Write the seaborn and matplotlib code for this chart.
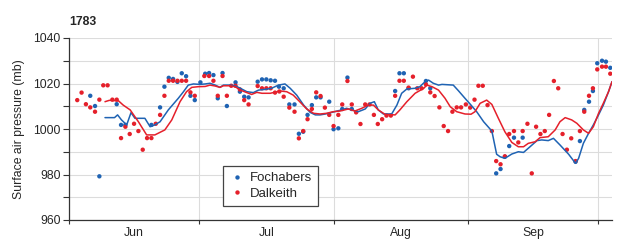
import matplotlib
matplotlib.use("Agg")
import matplotlib.pyplot as plt
import seaborn as sns
import pandas as pd

# day 0 = 1 June 1783
fochabers_days = [4.9, 6.0, 7.0, 11.0, 12.0, 13.0, 19.0, 21.0, 22.0, 23.0, 24.0, 25.0, 26.0, 27.0,
                  28.0, 29.0, 30.3, 31.4, 32.3, 33.3, 34.3, 35.4, 36.4, 38.4, 39.4, 40.4, 41.4,
                  43.5, 44.5, 45.5, 46.5, 47.5, 48.4, 49.5, 50.8, 52.0, 53.0, 54.0, 55.0, 56.0,
                  57.0, 58.0, 60.0, 61.0, 62.1, 63.0, 64.2, 65.2, 75.2, 76.2, 77.2, 78.3, 82.3,
                  83.3, 98.5, 99.5, 100.5, 101.5, 102.6, 104.6, 116.8, 117.8, 118.8, 119.9,
                  120.8, 121.8, 122.9, 123.8, 124.8]
fochabers_mb = [1014.6, 1010.1, 979.2, 1010.9, 1001.8, 1001.8, 1001.8, 1009.5, 1018.6, 1022.5,
                1022.0, 1020.7, 1024.5, 1023.2, 1014.6, 1012.7, 1020.5, 1024.3, 1024.6, 1023.7,
                1013.5, 1024.6, 1010.1, 1020.5, 1016.4, 1014.2, 1013.9, 1020.8, 1021.8, 1021.8,
                1021.4, 1021.2, 1018.6, 1017.9, 1010.8, 1010.8, 997.9, 998.8, 1006.2, 1010.5,
                1013.9, 1013.9, 1012.0, 999.9, 1000.3, 1008.8, 1022.6, 1008.8, 1016.7, 1024.5,
                1024.5, 1017.9, 1021.1, 1017.9, 980.5, 982.4, 987.8, 992.5, 996.2, 996.2,
                985.6, 994.7, 1008.4, 1012.0, 1016.7, 1028.9, 1030.0, 1029.6, 1026.9]

dalkeith_days = [1.9, 2.9, 3.9, 4.9, 6.0, 7.0, 7.9, 8.9, 10.0, 11.0, 12.0, 13.0, 14.0, 15.0, 16.0,
                 17.0, 18.0, 19.0, 20.0, 21.0, 22.0, 23.0, 24.0, 25.0, 26.0, 27.0, 28.0, 29.0,
                 31.2, 32.3, 33.3, 34.3, 35.4, 36.4, 37.4, 38.4, 39.4, 40.4, 41.4, 43.5, 44.5,
                 45.5, 46.5, 47.5, 48.5, 49.5, 50.8, 52.0, 53.0, 54.0, 55.0, 56.0, 57.0, 58.0,
                 59.0, 60.0, 61.0, 62.1, 63.0, 64.2, 65.2, 66.2, 67.2, 68.3, 69.3, 70.3, 71.2,
                 72.2, 73.2, 74.2, 75.2, 76.2, 77.2, 78.3, 79.3, 80.3, 81.3, 82.3, 83.3, 84.3,
                 85.4, 86.4, 87.4, 88.4, 89.4, 90.4, 91.5, 92.5, 93.5, 94.4, 95.4, 96.5, 97.5,
                 98.5, 99.5, 100.5, 101.5, 102.6, 103.6, 104.6, 105.7, 106.7, 107.7, 108.7,
                 109.7, 110.7, 111.8, 112.8, 113.8, 114.8, 115.8, 116.8, 117.8, 118.8, 119.9,
                 120.8, 121.8, 122.9, 123.8, 124.8]
dalkeith_mb = [1012.7, 1016.0, 1010.9, 1009.5, 1007.6, 1012.9, 1019.2, 1019.2, 1012.9, 1012.9,
               996.0, 1001.0, 997.8, 1002.3, 999.1, 990.9, 996.0, 996.0, 1002.3, 1006.2, 1014.6,
               1021.2, 1021.2, 1021.2, 1021.2, 1021.2, 1016.1, 1014.6, 1023.3, 1023.3, 1021.2,
               1014.6, 1023.3, 1014.6, 1019.0, 1019.0, 1017.4, 1012.7, 1010.8, 1018.9, 1017.9,
               1017.9, 1017.9, 1016.0, 1016.5, 1014.2, 1009.4, 1007.6, 995.9, 999.1, 1004.3,
               1008.8, 1016.1, 1014.5, 1009.4, 1006.2, 1001.3, 1006.2, 1010.8, 1021.1, 1010.8,
               1007.3, 1002.2, 1010.8, 1010.8, 1006.2, 1002.2, 1004.3, 1005.9, 1005.9, 1014.6,
               1021.2, 1021.2, 1018.2, 1023.0, 1017.9, 1017.9, 1019.6, 1016.1, 1014.5, 1009.5,
               1001.3, 999.1, 1007.6, 1009.5, 1009.5, 1010.8, 1009.4, 1012.9, 1019.0, 1019.0,
               1010.5, 999.1, 985.9, 984.5, 988.0, 997.8, 999.1, 994.1, 999.1, 1002.3, 980.5,
               1001.0, 997.8, 999.1, 1006.2, 1021.1, 1017.9, 997.8, 990.9, 995.9, 985.9, 999.1,
               1007.6, 1014.6, 1017.9, 1026.2, 1027.4, 1027.4, 1024.3]

# smoothed curves
fochabers_line_days = [8.3, 10.5, 11.2, 12.1, 13.3, 14.3, 15.2, 17.5, 18.7, 19.8, 21.0, 22.9, 25.2,
                       26.4, 27.5, 28.7, 30.2, 31.4, 32.5, 33.7, 34.8, 35.6, 37.1, 38.3, 39.5,
                       41.0, 42.5, 43.7, 45.2, 46.7, 48.3, 49.8, 51.0, 52.5, 54.1, 55.6, 56.8,
                       57.9, 59.1, 60.6, 62.0, 62.9, 64.0, 65.2, 66.7, 68.3, 69.4, 70.4, 71.3,
                       72.5, 74.4, 75.6, 76.7, 77.9, 79.8, 80.9, 82.1, 82.9, 84.0, 85.2, 86.0,
                       88.6, 89.8, 91.3, 92.7, 94.0, 95.6, 97.5, 98.6, 99.4, 100.5, 102.1, 103.6,
                       104.8, 106.3, 107.9, 109.0, 110.5, 111.7, 113.2, 115.2, 116.8, 117.5,
                       118.6, 119.8, 120.9, 122.1, 123.2, 124.4, 125.2]
fochabers_line_mb = [1005.0, 1005.0, 1006.2, 1004.0, 1001.8, 1007.2, 1004.7, 1004.7, 1001.0,
                     1001.8, 1003.2, 1008.4, 1013.5, 1016.4, 1019.3, 1019.8, 1019.6, 1019.8,
                     1020.1, 1019.3, 1018.3, 1019.3, 1019.3, 1019.0, 1017.9, 1016.4, 1016.0,
                     1017.1, 1017.4, 1017.9, 1019.3, 1019.8, 1017.9, 1014.9, 1010.5, 1007.3,
                     1006.2, 1006.2, 1006.6, 1007.3, 1008.0, 1008.4, 1009.1, 1008.4, 1007.6,
                     1008.8, 1011.3, 1012.0, 1008.4, 1006.6, 1006.6, 1010.5, 1015.7, 1017.6,
                     1017.9, 1018.6, 1020.8, 1021.5, 1020.1, 1019.3, 1019.6, 1019.3, 1016.8,
                     1013.5, 1010.5, 1007.6, 1003.2, 999.1, 988.9, 987.8, 987.1, 989.0, 990.0,
                     989.7, 992.2, 994.9, 995.2, 994.9, 995.9, 993.0, 988.9, 984.9, 987.1,
                     993.7, 998.1, 1001.8, 1006.2, 1010.5, 1016.4, 1020.8]

dalkeith_line_days = [8.3, 9.3, 11.4, 12.5, 14.1, 16.0, 17.9, 19.8, 22.1, 23.7, 25.6, 27.1, 28.3,
                      29.8, 31.4, 32.5, 33.7, 34.8, 35.6, 37.1, 38.3, 39.5, 41.0, 42.1, 43.3,
                      44.5, 46.4, 48.7, 50.2, 51.7, 53.2, 54.8, 56.4, 57.9, 59.4, 60.9, 62.5,
                      64.4, 65.9, 67.5, 69.0, 70.2, 71.3, 72.9, 75.2, 76.3, 77.9, 79.8, 81.8,
                      82.5, 83.7, 85.2, 86.7, 87.9, 89.4, 91.3, 92.7, 93.6, 94.8, 96.3, 97.5,
                      99.0, 100.5, 102.1, 103.6, 104.8, 105.9, 107.5, 108.6, 110.5, 112.1, 113.2,
                      114.4, 115.9, 117.1, 118.6, 119.8, 120.9, 122.1, 123.2, 124.4, 125.2]
dalkeith_line_mb = [1012.0, 1012.6, 1012.4, 1010.5, 1008.4, 1003.2, 997.4, 997.4, 999.6, 1004.0,
                    1012.0, 1016.4, 1018.3, 1018.6, 1018.7, 1019.3, 1018.9, 1018.3, 1019.0,
                    1019.0, 1018.6, 1017.1, 1016.0, 1015.2, 1016.1, 1015.7, 1015.7, 1016.7,
                    1016.4, 1014.9, 1012.0, 1008.8, 1006.9, 1006.6, 1006.9, 1007.6, 1007.9,
                    1008.8, 1007.9, 1009.1, 1010.5, 1010.5, 1008.4, 1006.4, 1006.2, 1008.4,
                    1012.0, 1015.7, 1017.9, 1019.3, 1018.6, 1017.1, 1013.5, 1009.8, 1007.6,
                    1006.6, 1006.5, 1007.6, 1011.3, 1012.7, 1010.8, 1004.7, 998.8, 994.1, 992.2,
                    992.2, 993.7, 994.4, 996.2, 996.6, 999.6, 1003.2, 1005.0, 1004.0, 1002.5,
                    999.6, 998.1, 1001.0, 1006.9, 1011.3, 1016.4, 1020.8]

month_starts = [0, 30, 61, 92, 122]
month_mids = [15, 45.5, 76.5, 107]
month_names = ["Jun", "Jul", "Aug", "Sep"]

blue = "#1f63b3"
red = "#e5202b"

sns.set_theme(style="white")
plt.rcParams["font.family"] = ["Liberation Sans", "DejaVu Sans"]

dots = pd.concat([
    pd.DataFrame({"day": fochabers_days, "mb": fochabers_mb, "site": "Fochabers"}),
    pd.DataFrame({"day": dalkeith_days, "mb": dalkeith_mb, "site": "Dalkeith"}),
])
lines = pd.concat([
    pd.DataFrame({"day": fochabers_line_days, "mb": fochabers_line_mb, "site": "Fochabers"}),
    pd.DataFrame({"day": dalkeith_line_days, "mb": dalkeith_line_mb, "site": "Dalkeith"}),
])
palette = {"Fochabers": blue, "Dalkeith": red}

fig = plt.figure(figsize=(6.2, 2.42), dpi=100)
ax = fig.add_axes([69 / 620, 22 / 242, 543 / 620, 182 / 242])

sns.lineplot(data=lines, x="day", y="mb", hue="site", palette=palette, lw=1.1,
             sort=False, estimator=None, legend=False, ax=ax)
sns.scatterplot(data=dots, x="day", y="mb", hue="site", palette=palette, s=10,
                linewidth=0, ax=ax)

ax.set_xlim(0, 125.2)
ax.set_ylim(960, 1040)
ax.set_yticks(range(960, 1041, 20))
ax.set_yticks(range(970, 1040, 20), minor=True)
ax.set_xticks(month_starts)
ax.set_xticklabels([])
ax.set_xticks(month_mids, minor=True)
ax.set_xticklabels(month_names, minor=True)

ax.grid(True, which="major", color="#dcdcdc", lw=0.8)
ax.grid(True, which="minor", axis="y", color="#dcdcdc", lw=0.8)
ax.tick_params(axis="y", which="both", direction="out", length=4, width=0.8,
               color="#333333", labelsize=8.8, pad=2, left=True)
ax.tick_params(axis="x", which="major", direction="out", length=3, width=0.8,
               color="#333333", bottom=True)
ax.tick_params(axis="x", which="minor", length=0, labelsize=8.8, pad=5)

for side in ["top", "right"]:
    ax.spines[side].set_visible(False)
for side in ["left", "bottom"]:
    ax.spines[side].set_color("#333333")
    ax.spines[side].set_linewidth(0.9)

ax.set_xlabel("")
ax.set_ylabel("Surface air pressure (mb)", fontsize=8.8, labelpad=6)
ax.set_title("1783", loc="left", fontsize=8.8, fontweight="bold", pad=9)

leg = ax.legend(loc="upper left", bbox_to_anchor=(0.284, 0.297), borderaxespad=0,
                fontsize=9.5, frameon=True, fancybox=False, framealpha=1,
                handletextpad=0.4, borderpad=0.45, labelspacing=0.25,
                handlelength=1.2, markerscale=1.0)
leg.get_frame().set_edgecolor("#444444")
leg.get_frame().set_linewidth(0.9)

fig.savefig("out.png", dpi=100)
